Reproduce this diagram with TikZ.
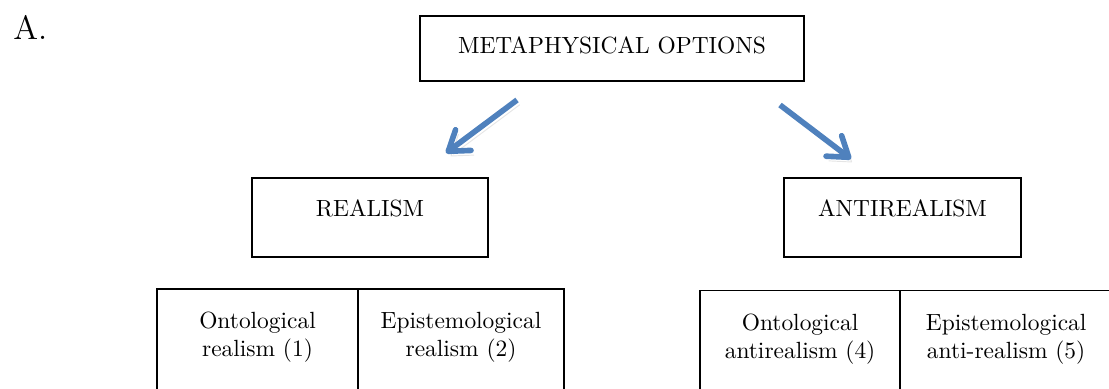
\documentclass[tikz,border=0pt]{standalone}
\usepackage{amsmath,amssymb}
\usetikzlibrary{positioning,arrows.meta}
\definecolor{arrowblue}{RGB}{79,129,189}
\newcommand{\celltext}[2]{\begin{tabular}[t]{@{}c@{}}#1\\#2\end{tabular}}

\begin{document}
\begin{tikzpicture}[x=0.015cm, y=-0.015cm,
     block/.style = {draw, rectangle, line width=0.8pt, inner sep=0pt, outer sep=0pt},
     cell/.style = {block, text height=17pt, text depth=50pt},
     tip/.style = {-{Straight Barb[length=8pt,width=11pt,round]}},
     arrow/.style = {draw=arrowblue, line width=2.4pt, tip,
      preaction={draw=black!20, opacity=.5, tip, transform canvas={shift={(1.2pt,-2pt)}}}}
    ]
    \useasboundingbox (0,0) rectangle (1109,389);
    \clip (0,0) rectangle (1109,389);

    \node [anchor=base west, inner sep=0pt, font=\Large] (lbl) at (13,40) {A.};

    \node [block, minimum width=163.9pt, text height=16.2pt, text depth=11.5pt] (meta) at (612,48.5) {METAPHYSICAL OPTIONS};
    \node [block, minimum width=100.7pt, text height=16.6pt, text depth=17.1pt] (real) at (370,217.5) {REALISM};
    \node [block, minimum width=101.1pt, text height=16.6pt, text depth=17.1pt] (anti) at (902.5,217.5) {ANTIREALISM};

    \node [cell, minimum width=85.8pt, anchor=north west] (ontoR) at (157,289) {\celltext{Ontological}{realism (1)}};
    \node [cell, minimum width=87.9pt, right=0pt of ontoR] (epiR) {\celltext{Epistemological}{realism (2)}};
    \node [cell, minimum width=85.4pt, anchor=north west] (ontoA) at (700,290.5) {\celltext{Ontological}{antirealism (4)}};
    \node [cell, minimum width=90.5pt, right=0pt of ontoA] (epiA) {\celltext{Epistemological}{anti-realism (5)}};

    \coordinate (metaL) at (517,100);
    \coordinate (realT) at (446,153);
    \coordinate (metaR) at (780,105);
    \coordinate (antiT) at (851,159);
    \draw [arrow] (metaL) -- (realT);
    \draw [arrow] (metaR) -- (antiT);

\end{tikzpicture}
\end{document}
